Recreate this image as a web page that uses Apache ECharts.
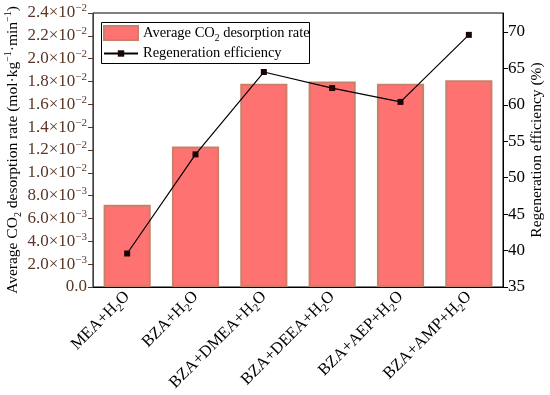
<!DOCTYPE html>
<html><head><meta charset="utf-8">
<script src="https://cdn.jsdelivr.net/npm/echarts@6/dist/echarts.min.js"></script>
<style>html,body{margin:0;padding:0;background:#fff}#c{width:550px;height:395px}</style>
</head><body><div id="c"></div>
<script>
const categories = ['MEA+H2O','BZA+H2O','BZA+DMEA+H2O','BZA+DEEA+H2O','BZA+AEP+H2O','BZA+AMP+H2O'];
const desorptionRate = [0.0072, 0.0123, 0.0178, 0.0180, 0.0178, 0.0181];
const regenEfficiency = [39.6, 53.2, 64.5, 62.3, 60.4, 69.6];
const leftTicks = {min: 0, max: 0.024, interval: 0.002};
const rightTicks = {min: 35, max: 72.6, interval: 5};

const FONT = 'Liberation Serif';
function subFmt(s){ return s.replace(/H2O/, '{a|H}{sub|2}{a|O}').replace(/^([^{]+)/, '{a|$1}'); }
function leftFmt(v){
  if (Math.abs(v) < 1e-12) return '{a|0.0}';
  let exp = Math.floor(Math.log10(v) + 1e-9);
  let m = v / Math.pow(10, exp);
  return '{a|' + m.toFixed(1) + '×10}{sup|−' + (-exp) + '}';
}
const legendRich = {
  a: {fontFamily: FONT, fontSize: 14.5, color: '#000'},
  sub: {fontFamily: FONT, fontSize: 9.5, color: '#000', verticalAlign: 'bottom', lineHeight: 20}
};
const chart = echarts.init(document.getElementById('c'));
chart.setOption({
  animation: false,
  textStyle: {fontFamily: FONT},
  grid: {left: 93, right: 47, top: 13, bottom: 108, outerBoundsMode: 'none', containLabel: false,
         show: true, borderColor: '#000', borderWidth: 1, backgroundColor: 'transparent'},
  graphic: [{type: 'rect', shape: {x: 101.5, y: 22.5, width: 208, height: 41},
             style: {fill: 'none', stroke: '#000', lineWidth: 1}, z: 100}],
  legend: [{
    orient: 'vertical', left: 103, top: 25, padding: 0,
    itemWidth: 34, itemHeight: 14, icon: 'rect',
    data: ['Average CO2 desorption rate'],
    formatter: function(){ return '{a|Average CO}{sub|2}{a| desorption rate}'; },
    textStyle: {fontFamily: FONT, color: '#000', rich: legendRich}
  }, {
    orient: 'vertical', left: 103, top: 46, padding: 0,
    itemWidth: 34, itemHeight: 8,
    data: ['Regeneration efficiency'],
    formatter: function(n){ return '{a|' + n + '}'; },
    textStyle: {fontFamily: FONT, color: '#000', rich: legendRich}
  }],
  xAxis: {
    type: 'category', data: categories,
    axisLine: {lineStyle: {color: '#000', width: 1}},
    axisTick: {show: false},
    axisLabel: {rotate: 45, margin: 7, interval: 0, formatter: subFmt,
      rich: {a: {fontFamily: FONT, fontSize: 16.5, color: '#000'},
             sub: {fontFamily: FONT, fontSize: 11, color: '#000', verticalAlign: 'bottom', lineHeight: 21}}}
  },
  yAxis: [{
    type: 'value', min: leftTicks.min, max: leftTicks.max, interval: leftTicks.interval, position: 'left',
    splitLine: {show: false},
    axisLine: {show: true, lineStyle: {color: '#5a3626', width: 1}},
    axisTick: {show: true, length: 5, lineStyle: {color: '#5a3626'}},
    axisLabel: {margin: 6, formatter: leftFmt,
      rich: {a: {fontFamily: FONT, fontSize: 17, color: '#5a3626', lineHeight: 20},
             sup: {fontFamily: FONT, fontSize: 11, color: '#5a3626', verticalAlign: 'top', lineHeight: 20}}},
    name: '{a|Average CO}{sub|2}{a| desorption rate (mol·kg}{sup|−1}{a|·min}{sup|−1}{a|)}',
    nameLocation: 'middle', nameRotate: 90, nameGap: 70, nameMoveOverlap: false,
    nameTextStyle: {rich: {
      a: {fontFamily: FONT, fontSize: 15.5, color: '#000', lineHeight: 20},
      sub: {fontFamily: FONT, fontSize: 10, color: '#000', verticalAlign: 'bottom', lineHeight: 20},
      sup: {fontFamily: FONT, fontSize: 10, color: '#000', verticalAlign: 'top', lineHeight: 20}}}
  }, {
    type: 'value', min: rightTicks.min, max: rightTicks.max, interval: rightTicks.interval, position: 'right',
    splitLine: {show: false},
    axisLine: {show: true, lineStyle: {color: '#000', width: 1}},
    axisTick: {show: true, length: 5, lineStyle: {color: '#000'}},
    axisLabel: {margin: 5, showMaxLabel: false, fontFamily: FONT, fontSize: 17, color: '#000'},
    name: 'Regeneration efficiency (%)', nameLocation: 'middle', nameRotate: 90, nameGap: 26, nameMoveOverlap: false,
    nameTextStyle: {fontFamily: FONT, fontSize: 15.5, color: '#000'}
  }],
  series: [{
    name: 'Average CO2 desorption rate', type: 'bar', yAxisIndex: 0, data: desorptionRate,
    barWidth: '69%',
    itemStyle: {color: '#ff7272', borderColor: '#c98068', borderWidth: 2}
  }, {
    name: 'Regeneration efficiency', type: 'line', yAxisIndex: 1, data: regenEfficiency,
    symbol: 'rect', symbolSize: 6,
    lineStyle: {color: '#000', width: 1.2},
    itemStyle: {color: '#1a0505'}
  }]
});
</script></body></html>
